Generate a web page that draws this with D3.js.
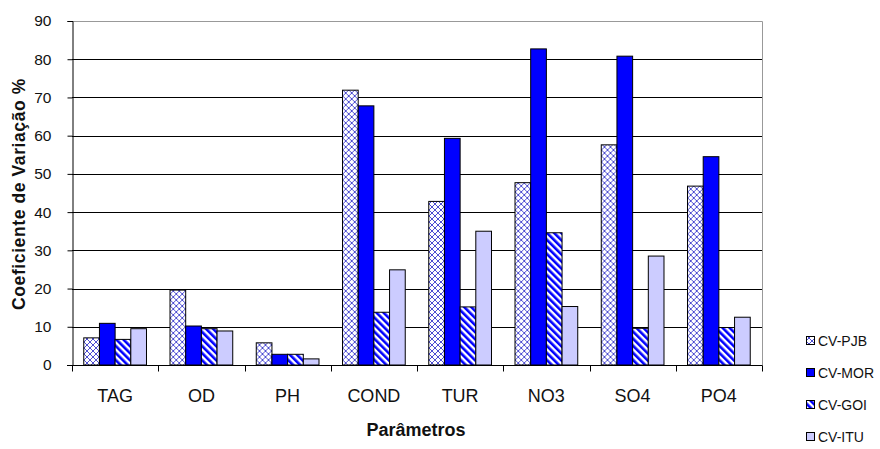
<!DOCTYPE html>
<html>
<head>
<meta charset="utf-8">
<script src="https://cdn.jsdelivr.net/npm/d3@7"></script>
<style>
  body { margin: 0; background: #fff; }
  text { font-family: "Liberation Sans", Arial, sans-serif; fill: #111; }
</style>
</head>
<body>
<div id="chart"></div>
<script>
// Coeficiente de variação por parâmetro
const categories = ["TAG", "OD", "PH", "COND", "TUR", "NO3", "SO4", "PO4"];
const series = ["CV-PJB", "CV-MOR", "CV-GOI", "CV-ITU"];
const pjb = [7.1, 19.6, 5.8, 71.9, 42.8, 47.7, 57.6, 46.8];
const mor = [10.9, 10.2, 2.8, 67.8, 59.3, 82.7, 80.8, 54.5];
const goi = [6.7, 9.5, 2.8, 13.8, 15.2, 34.6, 9.6, 9.8];
const itu = [9.5, 8.9, 1.6, 24.9, 35.0, 15.3, 28.5, 12.5];
const yTicks = [0, 10, 20, 30, 40, 50, 60, 70, 80, 90];

const values = [pjb, mor, goi, itu];
const data = categories.map((c, i) => ({
    cat: c,
    vals: series.map((s, j) => ({ key: s, value: values[j][i] }))
}));

const W = 880, H = 449;
const plot = { left: 72, right: 762, top: 21, bottom: 365 };

const svg = d3.select("#chart")
    .append("svg")
    .attr("width", W)
    .attr("height", H);

// patterns
const defs = svg.append("defs");
const cross = defs.append("pattern")
    .attr("id", "pat-pjb")
    .attr("patternUnits", "userSpaceOnUse")
    .attr("width", 6).attr("height", 6);
cross.append("rect").attr("width", 6).attr("height", 6).attr("fill", "#fff");
cross.append("path")
    .attr("d", "M0,0L6,6M6,0L0,6")
    .attr("stroke", "#3a3acc").attr("stroke-width", 0.9);

const stripe = defs.append("pattern")
    .attr("id", "pat-goi")
    .attr("patternUnits", "userSpaceOnUse")
    .attr("width", 5).attr("height", 5)
    .attr("patternTransform", "rotate(-45)");
stripe.append("rect").attr("width", 5).attr("height", 5).attr("fill", "#fff");
stripe.append("rect").attr("width", 2.6).attr("height", 5).attr("fill", "#0000ff");

const fills = {
    "CV-PJB": "url(#pat-pjb)",
    "CV-MOR": "#0000ff",
    "CV-GOI": "url(#pat-goi)",
    "CV-ITU": "#ccccff"
};

const x = d3.scaleBand().domain(categories).range([plot.left, plot.right]).padding(0);
const xs = d3.scaleBand().domain(series).range([0, x.bandwidth()]).paddingInner(0).paddingOuter(0.75);
const y = d3.scaleLinear().domain([0, 90]).range([plot.bottom, plot.top]);

// gridlines
svg.append("g")
    .selectAll("line")
    .data(yTicks.filter(t => t > 0 && t < 90))
    .join("line")
    .attr("x1", plot.left).attr("x2", plot.right)
    .attr("y1", d => Math.round(y(d)) + 0.5).attr("y2", d => Math.round(y(d)) + 0.5)
    .attr("stroke", "#000").attr("stroke-width", 1);

// plot border (top + right)
svg.append("path")
    .attr("d", `M${plot.left},${plot.top + 0.5}H${plot.right + 0.5}V${plot.bottom}`)
    .attr("fill", "none").attr("stroke", "#999").attr("stroke-width", 1);

// bars
const groups = svg.append("g")
    .selectAll("g")
    .data(data)
    .join("g")
    .attr("transform", d => `translate(${x(d.cat)},0)`);

groups.selectAll("rect")
    .data(d => d.vals)
    .join("rect")
    .attr("x", d => xs(d.key))
    .attr("y", d => y(d.value))
    .attr("width", xs.bandwidth())
    .attr("height", d => y(0) - y(d.value))
    .attr("fill", d => fills[d.key])
    .attr("stroke", "#000")
    .attr("stroke-width", 1);

// y axis
const yAxis = svg.append("g")
    .attr("transform", `translate(${plot.left + 0.5},0)`)
    .call(d3.axisLeft(y).tickValues(yTicks).tickSize(5).tickPadding(16));
yAxis.select(".domain").attr("stroke", "#000");
yAxis.selectAll(".tick line").attr("stroke", "#000");
yAxis.selectAll("text")
    .attr("font-size", 15.5)
    .attr("font-family", "Liberation Sans, Arial, sans-serif")
    .attr("fill", "#222");

// x axis
const xAxis = svg.append("g")
    .attr("transform", `translate(0,${plot.bottom + 0.5})`);
xAxis.append("line")
    .attr("x1", plot.left - 5).attr("x2", plot.right + 0.5)
    .attr("stroke", "#000");
xAxis.selectAll(".sep")
    .data(categories.concat(["end"]))
    .join("line")
    .attr("class", "sep")
    .attr("x1", (d, i) => Math.round(plot.left + i * x.step()) + 0.5)
    .attr("x2", (d, i) => Math.round(plot.left + i * x.step()) + 0.5)
    .attr("y1", 0).attr("y2", 6)
    .attr("stroke", "#000");
xAxis.selectAll(".lab")
    .data(categories)
    .join("text")
    .attr("class", "lab")
    .attr("x", d => x(d) + x.bandwidth() / 2)
    .attr("y", 36)
    .attr("text-anchor", "middle")
    .attr("font-size", 18)
    .attr("fill", "#222")
    .text(d => d);

// axis titles
svg.append("text")
    .attr("transform", `translate(25,194) rotate(-90)`)
    .attr("text-anchor", "middle")
    .attr("font-size", 17.5)
    .attr("font-weight", "bold")
    .attr("letter-spacing", 0.6)
    .text("Coeficiente de Variação %");

svg.append("text")
    .attr("x", 416)
    .attr("y", 436)
    .attr("text-anchor", "middle")
    .attr("font-size", 18)
    .attr("font-weight", "bold")
    .text("Parâmetros");

// legend
const legend = svg.append("g")
    .selectAll("g")
    .data(series)
    .join("g")
    .attr("transform", (d, i) => `translate(806,${341 + i * 32})`);
legend.append("rect")
    .attr("x", 0.5).attr("y", -4.5)
    .attr("width", 8).attr("height", 8)
    .attr("fill", d => fills[d])
    .attr("stroke", "#000");
legend.append("text")
    .attr("x", 12).attr("y", 5)
    .attr("font-size", 14)
    .attr("fill", "#222")
    .text(d => d);
</script>
</body>
</html>
